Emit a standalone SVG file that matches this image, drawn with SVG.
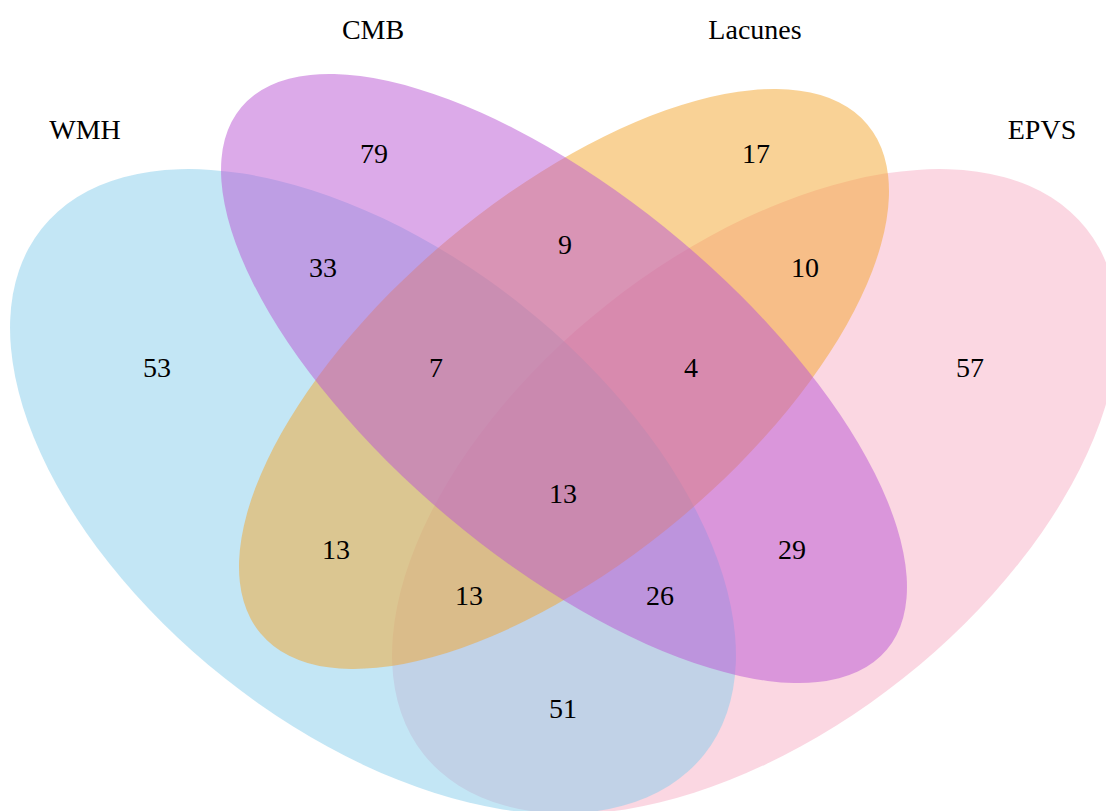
<svg xmlns="http://www.w3.org/2000/svg" width="1106" height="811" viewBox="0 0 1106 811">
  <style>
    .set { fill-opacity: 0.5; stroke: none; }
    .lbl { font-family: "Liberation Serif", "Times New Roman", serif; font-size: 28px; fill: #000; text-anchor: middle; }
  </style>
  <rect width="1106" height="811" fill="#ffffff"/>
  <g id="sets">
    <g id="EPVS">
      <ellipse class="set" fill="#F7AFC5" cx="755" cy="491.5" rx="422.9" ry="238.4" transform="rotate(-38.41 755 491.5)"/>
    </g>
    <g id="WMH">
      <ellipse class="set" fill="#87CEEB" cx="373" cy="491.5" rx="422.9" ry="238.4" transform="rotate(38.41 373 491.5)"/>
    </g>
    <g id="Lacunes">
      <ellipse class="set" fill="#F3A52D" cx="564" cy="379" rx="396" ry="181.4" transform="rotate(-40 564 379)"/>
    </g>
    <g id="CMB">
      <ellipse class="set" fill="#BA55D3" cx="564" cy="378.5" rx="421.6" ry="180.6" transform="rotate(40.06 564 378.5)"/>
    </g>
  </g>
  <g id="category-labels">
    <text class="lbl" x="85" y="139">WMH</text>
    <text class="lbl" x="373" y="39">CMB</text>
    <text class="lbl" x="755" y="39">Lacunes</text>
    <text class="lbl" x="1042" y="139">EPVS</text>
  </g>
  <g id="counts">
    <text class="lbl" x="374" y="163">79</text>
    <text class="lbl" x="756" y="163">17</text>
    <text class="lbl" x="323" y="277">33</text>
    <text class="lbl" x="565" y="254">9</text>
    <text class="lbl" x="805" y="277">10</text>
    <text class="lbl" x="157" y="377">53</text>
    <text class="lbl" x="436" y="377">7</text>
    <text class="lbl" x="691" y="377">4</text>
    <text class="lbl" x="970" y="377">57</text>
    <text class="lbl" x="563" y="503">13</text>
    <text class="lbl" x="336" y="559">13</text>
    <text class="lbl" x="792" y="559">29</text>
    <text class="lbl" x="469" y="605">13</text>
    <text class="lbl" x="660" y="605">26</text>
    <text class="lbl" x="563" y="718">51</text>
  </g>
</svg>
